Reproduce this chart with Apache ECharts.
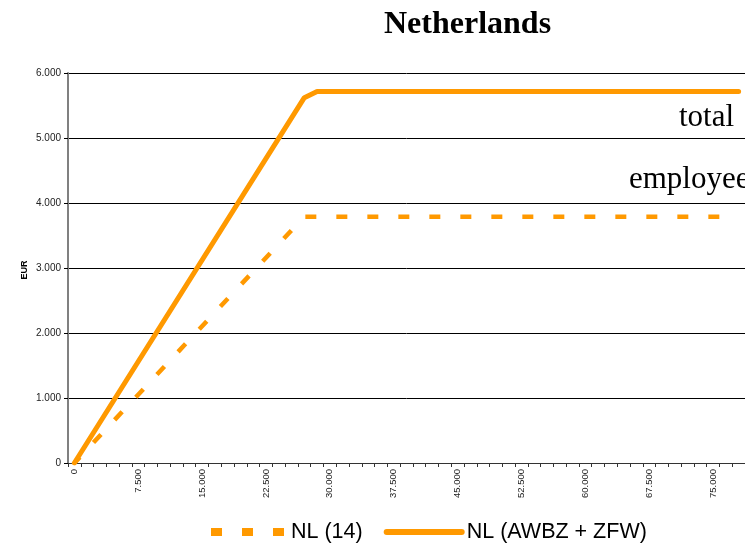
<!DOCTYPE html>
<html>
<head>
<meta charset="utf-8">
<script src="https://cdn.jsdelivr.net/npm/echarts@6/dist/echarts.min.js"></script>
<style>
  html, body { margin: 0; padding: 0; background: #fff; }
  #chart { width: 745px; height: 545px; }
</style>
</head>
<body>
<div id="chart"></div>
<script>
// Gross income (EUR) at the break points of each contribution curve
const incomeNL14 = [0, 27000, 78000];
const contribNL14 = [0, 3790, 3790];
const incomeTotal = [0, 27000, 28500, 78000];
const contribTotal = [0, 5620, 5715, 5715];

// Income bracket width and labelled incomes on the horizontal axis
const bracketWidth = 1500;
const bracketCount = 53;
const xLabelValues = [0, 7500, 15000, 22500, 30000, 37500, 45000, 52500, 60000, 67500, 75000];

const seriesNames = ['NL (14)', 'NL (AWBZ + ZFW)'];
const orange = '#ff9900';
const dashPattern = [11, 20];

// Each income sits in the middle of its bracket, so brackets start half a width before 0
const xMin = -bracketWidth / 2;
const xMax = xMin + bracketCount * bracketWidth;
const bracketEdges = [];
for (let k = 0; k <= bracketCount; k++) bracketEdges.push(xMin + k * bracketWidth);

const pairs = (xs, ys) => xs.map((x, i) => [x, ys[i]]);
const fmt = v => String(Math.round(v)).replace(/\B(?=(\d{3})+(?!\d))/g, '.');

const chart = echarts.init(document.getElementById('chart'), null, { renderer: 'canvas' });
chart.setOption({
  animation: false,
  backgroundColor: '#ffffff',
  title: {
    text: 'Netherlands',
    left: 384,
    top: 9,
    padding: 0,
    textStyle: { fontFamily: 'Liberation Serif', fontWeight: 'bold', fontSize: 32, color: '#000' }
  },
  legend: {
    data: [
      { name: seriesNames[0], lineStyle: { color: orange, width: 8, type: dashPattern, dashOffset: 0, cap: 'butt' } },
      { name: seriesNames[1], lineStyle: { color: orange, width: 6, type: 'solid', cap: 'round' } }
    ],
    left: 207,
    top: 521,
    padding: 0,
    itemWidth: 75,
    itemHeight: 14,
    itemGap: 21,
    itemStyle: { opacity: 0, borderWidth: 0 },
    textStyle: { fontFamily: 'Liberation Sans', fontSize: 21.5, color: '#000' }
  },
  grid: { left: 68, top: 73, width: 678.4, height: 390 },
  xAxis: {
    type: 'value',
    min: xMin,
    max: xMax,
    splitLine: { show: false },
    axisLine: { show: true, lineStyle: { color: '#333', width: 1 } },
    axisTick: { show: true, length: 4, customValues: bracketEdges, lineStyle: { color: '#333' } },
    axisLabel: {
      customValues: xLabelValues,
      rotate: 90,
      margin: 6,
      fontFamily: 'Liberation Sans',
      fontSize: 9.5,
      color: '#222',
      formatter: fmt
    }
  },
  yAxis: {
    type: 'value',
    min: 0,
    max: 6000,
    interval: 1000,
    axisLine: { show: true, onZero: false, lineStyle: { color: '#808080', width: 2 } },
    axisTick: { show: true, length: 4, lineStyle: { color: '#000' } },
    splitLine: { show: true, lineStyle: { color: '#000', width: 1 } },
    axisLabel: { margin: 7, fontFamily: 'Liberation Sans', fontSize: 10, color: '#222', formatter: fmt }
  },
  series: [
    {
      name: seriesNames[0],
      type: 'line',
      data: pairs(incomeNL14, contribNL14),
      symbol: 'none',
      lineStyle: { color: orange, width: 4.5, type: dashPattern, dashOffset: 3, cap: 'butt' },
      itemStyle: { color: orange }
    },
    {
      name: seriesNames[1],
      type: 'line',
      data: pairs(incomeTotal, contribTotal),
      symbol: 'none',
      lineStyle: { color: orange, width: 5, cap: 'round', join: 'round' },
      itemStyle: { color: orange }
    }
  ],
  graphic: [
    {
      // vertical axis title
      type: 'text',
      x: 25, y: 270,
      rotation: Math.PI / 2,
      style: {
        text: 'EUR', font: 'bold 9px "Liberation Sans"', fill: '#000',
        align: 'center', verticalAlign: 'middle'
      }
    },
    {
      type: 'text',
      x: 679, y: 118,
      style: { text: 'total', font: '31px "Liberation Serif"', fill: '#000', verticalAlign: 'middle' }
    },
    {
      type: 'text',
      x: 629, y: 180,
      style: { text: 'employees', font: '31px "Liberation Serif"', fill: '#000', verticalAlign: 'middle' }
    }
  ]
});
</script>
</body>
</html>
